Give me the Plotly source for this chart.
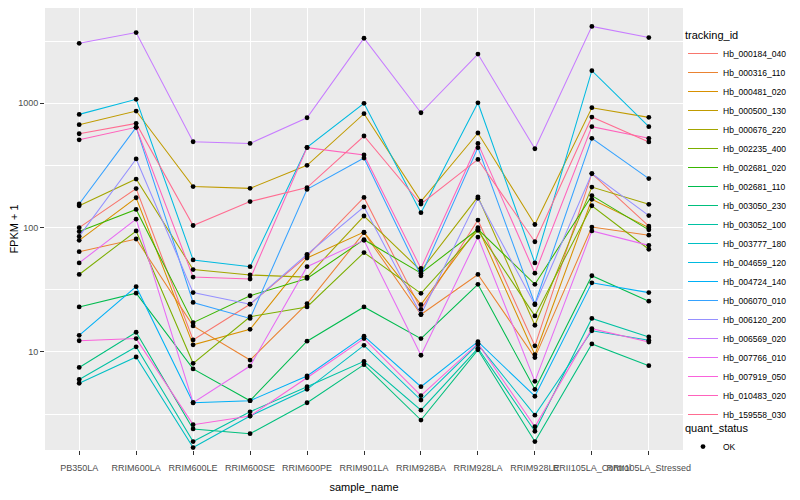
import plotly.graph_objects as go

samples = ["PB350LA", "RRIM600LA", "RRIM600LE", "RRIM600SE", "RRIM600PE", "RRIM901LA",
           "RRIM928BA", "RRIM928LA", "RRIM928LE", "RRII105LA_Control", "RRII105LA_Stressed"]

tracking_ids = ["Hb_000184_040", "Hb_000316_110", "Hb_000481_020", "Hb_000500_130", "Hb_000676_220",
                "Hb_002235_400", "Hb_002681_020", "Hb_002681_110", "Hb_003050_230", "Hb_003052_100",
                "Hb_003777_180", "Hb_004659_120", "Hb_004724_140", "Hb_006070_010", "Hb_006120_200",
                "Hb_006569_020", "Hb_007766_010", "Hb_007919_050", "Hb_010483_020", "Hb_159558_030"]

# FPKM + 1 values per gene, in sample order
hb_000184_040 = [100, 206, 12.5, 24.2, 59, 175, 22, 115, 11.2, 272, 103]
hb_000316_110 = [64, 81, 16.2, 8.6, 24.5, 91, 20, 42, 9.0, 101, 87]
hb_000481_020 = [79, 174, 11.4, 15.2, 57, 92, 24, 100, 9.5, 169, 100]
hb_000500_130 = [673, 867, 214, 207, 317, 825, 163, 577, 106, 922, 771]
hb_000676_220 = [150, 246, 46, 41.6, 40, 124, 45, 177, 16.4, 212, 154]
hb_002235_400 = [42, 94, 8.1, 19.2, 23, 63, 29.6, 95, 19.5, 150, 67]
hb_002681_020 = [93, 140, 17.2, 28.3, 39, 80, 43, 97, 35, 181, 96]
hb_002681_110 = [23, 29.7, 7.3, 4.05, 12.2, 23, 12.8, 35, 5.0, 41, 25.6]
hb_003050_230 = [7.5, 14.4, 2.4, 2.2, 3.9, 7.9, 2.83, 10.4, 1.9, 11.6, 7.75]
hb_003052_100 = [6.0, 11.0, 1.9, 3.3, 5.25, 8.4, 3.4, 10.7, 2.3, 18.6, 13.2]
hb_003777_180 = [5.6, 9.1, 1.7, 3.05, 5.0, 11.3, 4.1, 11.5, 3.1, 14.8, 12.4]
hb_004659_120 = [815, 1077, 55, 48.5, 443, 1000, 132, 1010, 52, 1830, 649]
hb_004724_140 = [13.6, 33.5, 3.9, 4.05, 6.4, 13.4, 5.25, 12.1, 4.4, 36, 30]
hb_006070_010 = [155, 641, 25, 18.6, 203, 363, 41, 440, 24.3, 523, 248]
hb_006120_200 = [85, 357, 30, 24.2, 61, 147, 20, 172, 24, 272, 125]
hb_006569_020 = [3040, 3710, 491, 476, 766, 3340, 840, 2490, 431, 4160, 3380]
hb_007766_010 = [52, 117, 3.9, 7.7, 48.5, 79, 9.4, 84, 5.8, 94, 72]
hb_007919_050 = [12.3, 12.8, 2.6, 3.05, 6.2, 12.8, 4.45, 11.7, 2.5, 15.4, 12.0]
hb_010483_020 = [509, 641, 40, 38.6, 440, 384, 47, 476, 43, 649, 523]
hb_159558_030 = [569, 690, 104, 162, 210, 546, 155, 354, 77, 776, 489]

series_values = [hb_000184_040, hb_000316_110, hb_000481_020, hb_000500_130, hb_000676_220,
                 hb_002235_400, hb_002681_020, hb_002681_110, hb_003050_230, hb_003052_100,
                 hb_003777_180, hb_004659_120, hb_004724_140, hb_006070_010, hb_006120_200,
                 hb_006569_020, hb_007766_010, hb_007919_050, hb_010483_020, hb_159558_030]

quant_status = "OK"

y_ticks = [10, 100, 1000]
y_tick_labels = ["10", "100", "1000"]

colors = ["#F8766D", "#EA8331", "#D89000", "#C09B00", "#A3A500", "#7CAE00", "#39B600", "#00BB4E",
          "#00BF7D", "#00C1A3", "#00BFC4", "#00BAE0", "#00B0F6", "#35A2FF", "#9590FF", "#C77CFF",
          "#E76BF3", "#FA62DB", "#FF62BC", "#FF6C91"]

FONT = "Liberation Sans, Arial, Helvetica, sans-serif"

fig = go.Figure()
for name, vals, col in zip(tracking_ids, series_values, colors):
    fig.add_trace(go.Scatter(x=samples, y=vals, mode="lines", name=name,
                             line=dict(color=col, width=1.05), legend="legend"))

all_x = [s for _ in series_values for s in samples]
all_y = [v for vals in series_values for v in vals]
fig.add_trace(go.Scatter(x=all_x, y=all_y, mode="markers", name=quant_status,
                         marker=dict(color="black", size=4.8), legend="legend2"))

fig.update_layout(
    width=792, height=492,
    margin=dict(l=37, r=116.5, t=0, b=50, autoexpand=False),
    paper_bgcolor="white", plot_bgcolor="#EBEBEB",
    font=dict(family=FONT, size=9, color="black"),
    xaxis=dict(type="category", categoryorder="array", categoryarray=samples,
               range=[-0.6, len(samples) - 0.4], tickmode="array", tickvals=samples,
               tickangle=0, ticks="outside", ticklen=4, tickwidth=1, tickcolor="#333333",
               ticklabelstandoff=5,
               tickfont=dict(family=FONT, size=9, color="#4D4D4D"),
               showgrid=True, gridcolor="white", gridwidth=1.1, zeroline=False, showline=False,
               title=dict(text="sample_name", font=dict(family=FONT, size=11, color="black"), standoff=11),
               automargin=False),
    yaxis=dict(type="log", range=[0.211, 3.767],
               tickmode="array", tickvals=y_ticks, ticktext=y_tick_labels,
               ticks="outside", ticklen=4, tickwidth=1, tickcolor="#333333",
               tickfont=dict(family=FONT, size=9, color="#4D4D4D"),
               showgrid=True, gridcolor="white", gridwidth=1.1, zeroline=False, showline=False,
               minor=dict(tickmode="array", tickvals=[10 ** 0.5, 10 ** 1.5, 10 ** 2.5, 10 ** 3.5],
                          showgrid=True, gridcolor="white", gridwidth=0.55, ticks=""),
               title=dict(text="FPKM + 1", font=dict(family=FONT, size=11, color="black"), standoff=6),
               automargin=False),
    legend=dict(title=dict(text="tracking_id", font=dict(family=FONT, size=11, color="black")),
                x=1.0, xanchor="left", y=0.962, yanchor="top",
                font=dict(family=FONT, size=8.5, color="black"),
                tracegroupgap=0, itemwidth=30, bgcolor="rgba(0,0,0,0)"),
    legend2=dict(title=dict(text="quant_status", font=dict(family=FONT, size=11, color="black")),
                 x=1.0, xanchor="left", y=0.073, yanchor="top",
                 font=dict(family=FONT, size=8.5, color="black"),
                 itemwidth=30, bgcolor="rgba(0,0,0,0)"),
)

fig.write_html("out.html")
